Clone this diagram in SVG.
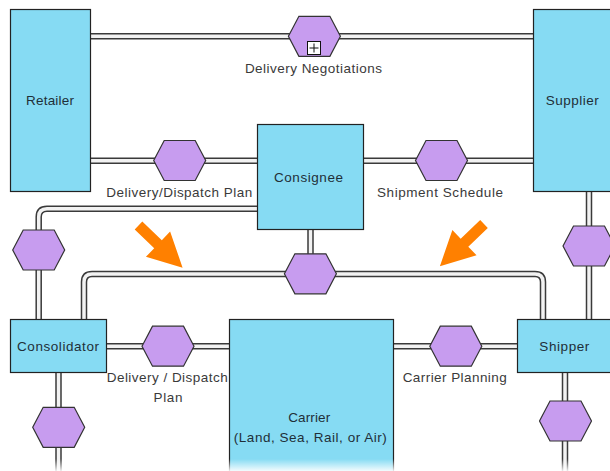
<svg xmlns="http://www.w3.org/2000/svg" width="610" height="471" viewBox="0 0 610 471">
<style>
  .box{fill:#86DBF3;stroke:#222;stroke-width:1.2}
  .hex{fill:#C79CEF;stroke:#333;stroke-width:1.2}
  .tubeO{fill:none;stroke:#3a3a3a;stroke-width:6.5}
  .tubeI{fill:none;stroke:#f2f2f2;stroke-width:3.5}
  .bl{font-family:"Liberation Sans",Arial,sans-serif;font-size:13.5px;fill:#1f2f38;text-anchor:middle}
  .cl{font-family:"Liberation Sans",Arial,sans-serif;font-size:13.5px;fill:#3a3a3a;text-anchor:middle}
  .arrow{fill:#FF8000}
</style>
<defs>
  <polygon id="hx" points="-26,0 -15.5,-20 15.5,-20 26,0 15.5,20 -15.5,20"/>
  <polygon id="ar" points="0,-5.5 27,-5.5 27,-17.5 61,0 27,17.5 27,5.5 0,5.5"/>
  <linearGradient id="fade" x1="0" y1="0" x2="0" y2="1">
    <stop offset="0" stop-color="#fff" stop-opacity="0"/>
    <stop offset="1" stop-color="#fff" stop-opacity="0.9"/>
  </linearGradient>
</defs>
<rect width="610" height="471" fill="#fff"/>

<g id="connectors">
  <g class="tubeO">
    <path d="M90,36.3 H533"/>
    <path d="M90,160.7 H257"/>
    <path d="M364,160.7 H533"/>
    <path d="M257,208.7 H47 Q38.7,208.7 38.7,217 V319"/>
    <path d="M310.5,229 V274"/>
    <path d="M84,319 V282 Q84,274 92,274 H535 Q543,274 543,282 V319"/>
    <path d="M589,191 V319"/>
    <path d="M107,346.2 H229"/>
    <path d="M393,346.2 H517"/>
    <path d="M58.5,373 V471"/>
    <path d="M565,373 V471"/>
  </g>
  <g class="tubeI">
    <path d="M90,36.3 H533"/>
    <path d="M90,160.7 H257"/>
    <path d="M364,160.7 H533"/>
    <path d="M257,208.7 H47 Q38.7,208.7 38.7,217 V319"/>
    <path d="M310.5,229 V274"/>
    <path d="M84,319 V282 Q84,274 92,274 H535 Q543,274 543,282 V319"/>
    <path d="M589,191 V319"/>
    <path d="M107,346.2 H229"/>
    <path d="M393,346.2 H517"/>
    <path d="M58.5,373 V471"/>
    <path d="M565,373 V471"/>
  </g>
</g>

<g id="retailer"><rect class="box" x="10.5" y="9.5" width="80" height="182"/><text class="bl" x="50" y="105" textLength="48" lengthAdjust="spacing">Retailer</text></g>
<g id="supplier"><rect class="box" x="533.5" y="9.5" width="90" height="182"/><text class="bl" x="572.3" y="105" textLength="53" lengthAdjust="spacing">Supplier</text></g>
<g id="consignee"><rect class="box" x="257.5" y="124.5" width="106" height="105"/><text class="bl" x="308.5" y="181.7" textLength="69" lengthAdjust="spacing">Consignee</text></g>
<g id="consolidator"><rect class="box" x="10.5" y="319.5" width="96" height="53"/><text class="bl" x="58" y="350.8" textLength="82" lengthAdjust="spacing">Consolidator</text></g>
<g id="shipper"><rect class="box" x="517.5" y="319.5" width="100" height="53"/><text class="bl" x="564.3" y="350.8" textLength="50" lengthAdjust="spacing">Shipper</text></g>
<g id="carrier"><rect class="box" x="229.5" y="319.5" width="164" height="170"/><text class="bl" x="309.2" y="421.8" textLength="42" lengthAdjust="spacing">Carrier</text><text class="bl" x="310.3" y="441.8" textLength="153" lengthAdjust="spacing">(Land, Sea, Rail, or Air)</text></g>

<g id="delivery-negotiations">
  <use href="#hx" class="hex" x="314.4" y="36.3"/>
  <rect x="307.5" y="41.5" width="13" height="13" fill="#fff" stroke="#111" stroke-width="1"/>
  <path d="M314,43.5 V52.5 M309.5,48 H318.5" stroke="#111" stroke-width="1"/>
  <text class="cl" x="313.4" y="73.3" textLength="137" lengthAdjust="spacing">Delivery Negotiations</text>
</g>
<g id="delivery-dispatch-plan"><use href="#hx" class="hex" x="179.7" y="160.5"/><text class="cl" x="179.3" y="196.7" textLength="146" lengthAdjust="spacing">Delivery/Dispatch Plan</text></g>
<g id="shipment-schedule"><use href="#hx" class="hex" x="441.5" y="160.5"/><text class="cl" x="440" y="196.5" textLength="126" lengthAdjust="spacing">Shipment Schedule</text></g>
<g id="hex-left"><use href="#hx" class="hex" x="38.7" y="250"/></g>
<g id="hex-center"><use href="#hx" class="hex" x="310.4" y="273.8"/></g>
<g id="hex-right"><use href="#hx" class="hex" x="589" y="246"/></g>
<g id="delivery-dispatch-plan-2"><use href="#hx" class="hex" x="168" y="346.2"/><text class="cl" x="167.2" y="381.7" textLength="121" lengthAdjust="spacing">Delivery / Dispatch</text><text class="cl" x="168" y="401.7" textLength="29" lengthAdjust="spacing">Plan</text></g>
<g id="carrier-planning"><use href="#hx" class="hex" x="455.8" y="346.2"/><text class="cl" x="454.7" y="381.7" textLength="104" lengthAdjust="spacing">Carrier Planning</text></g>
<g id="hex-bottom-left"><use href="#hx" class="hex" x="58.7" y="427.3"/></g>
<g id="hex-bottom-right"><use href="#hx" class="hex" x="565.5" y="421"/></g>

<g id="arrows">
  <use href="#ar" class="arrow" transform="translate(138.5,225.5) rotate(43.7)"/>
  <use href="#ar" class="arrow" transform="translate(484,224) rotate(136.3)"/>
</g>

<rect x="0" y="459" width="610" height="12" fill="url(#fade)"/>
</svg>
